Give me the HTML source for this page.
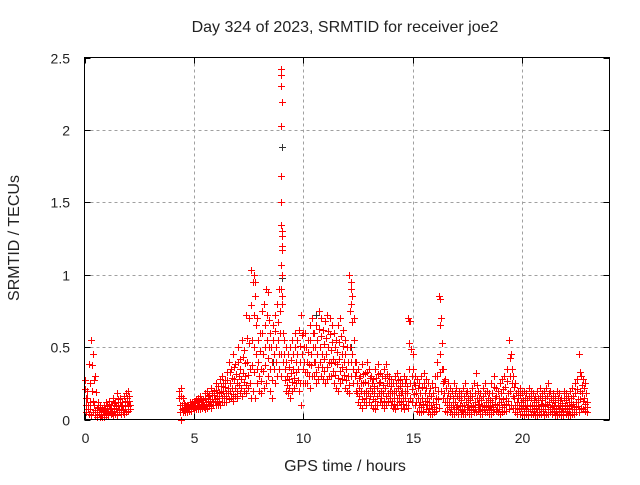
<!DOCTYPE html>
<html><head><meta charset="utf-8"><style>
html,body{margin:0;padding:0;background:#fff;}
svg text{font-family:"Liberation Sans",sans-serif;font-size:14px;fill:#222;}
svg text.big{font-size:16px;}
</style></head><body>
<svg id="chart" width="640" height="480">
<text class="big" x="345" y="32" text-anchor="middle">Day 324 of 2023, SRMTID for receiver joe2</text>
<text class="big" x="345" y="471" text-anchor="middle">GPS time / hours</text>
<text class="big" transform="translate(19,238) rotate(-90)" text-anchor="middle">SRMTID / TECUs</text>
<g id="grid"></g>
<g id="axes"></g>
<g id="marks" shape-rendering="crispEdges"></g>
<rect x="84.5" y="57.5" width="525" height="362" fill="none" stroke="#000" stroke-width="1"/>
</svg>
<script>
const xTicks=[0,5,10,15,20];
const yTicks=[0,0.5,1,1.5,2,2.5];
const yTickLabels=["0","0.5","1","1.5","2","2.5"];
const segStart=[0,4.3];
const hi1=[.27,.2,.38,.55,.45,.3,.12,.1,.08,.1,.12,.13,.1,.15,.12,.18,.15,.12,.16,.18,.2];
const mid1=[.15,.1,.12,.2,.1,.08,.05,.04,.05,.06,.07,.08,.06,.08,.07,.1,.09,.07,.1,.12,.13];
const lo1=[.05,.04,.03,.05,.03,.02,.02,.02,.02,.03,.03,.04,.03,.04,.03,.05,.04,.04,.05,.06,.07];
const hi2=[.2,.22,.15,.1,.1,.12,.12,.13,
.14,.15,.16,.14,.18,.2,.17,.22,.2,.25,.23,.28,.3,.27,.33,
.4,.35,.45,.38,.5,.42,.55,.48,.72,.7,
1.03,.95,.85,.7,.6,.75,.8,.9,.88,.6,.65,.72,.8,.9,
.9,
.55,.5,.45,.5,.55,.6,.55,.62,.72,.6,
.6,.55,.65,.7,.6,.65,.75,.7,.62,.68,.72,.7,.65,.6,.55,.65,.7,.62,.55,.5,
1.0,.9,.7,
.4,.35,.3,.38,.32,.4,.35,.3,.28,.35,.38,.32,.3,.35,.38,.3,.28,.25,.3,.32,.28,.25,.3,.28,
.7,.68,.45,
.3,.28,.25,.3,.32,.28,.25,.22,.25,.3,.4,
.85,.7,
.35,.28,.25,.22,.2,.25,.22,.2,.18,.22,.25,.2,.18,.22,.25,.32,.2,.18,.22,.25,.2,.18,.25,.3,.22,.2,.25,.28,.3,.35,
.55,.45,
.3,.25,.2,.22,.18,.2,.18,.22,.2,.18,.16,.2,.22,.18,.2,.22,.25,.2,.18,.16,.2,.18,.15,.2,.18,.16,.2,.22,.25,.28,
.45,.3,.28,.25];
const mid2=[.1,.1,.08,.07,.08,.09,.09,.1,
.1,.1,.11,.1,.12,.13,.12,.14,.14,.16,.15,.18,.2,.18,.22,
.25,.22,.28,.25,.3,.28,.32,.3,.4,.35,
.55,.5,.45,.4,.35,.45,.5,.55,.5,.4,.45,.5,.55,.6,
.8,
.35,.3,.28,.32,.35,.4,.35,.4,.45,.4,
.4,.38,.45,.5,.4,.45,.5,.45,.42,.45,.5,.48,.42,.4,.38,.42,.45,.4,.35,.3,
.5,.45,.4,
.25,.22,.2,.25,.2,.25,.22,.2,.18,.22,.25,.2,.18,.22,.25,.2,.18,.15,.2,.22,.18,.15,.2,.18,
.35,.3,.25,
.18,.15,.12,.15,.18,.15,.12,.1,.12,.15,.2,
.45,.35,
.18,.15,.12,.1,.1,.12,.1,.1,.09,.1,.12,.1,.09,.1,.12,.15,.1,.09,.1,.12,.1,.09,.12,.15,.1,.1,.12,.14,.15,.18,
.3,.25,
.15,.12,.1,.12,.09,.1,.09,.1,.1,.09,.08,.1,.11,.09,.1,.11,.12,.1,.09,.08,.1,.09,.08,.1,.09,.08,.1,.11,.12,.14,
.2,.18,.15,.12];
const lo2=[0,.05,.05,.05,.06,.06,.07,.07,
.07,.07,.08,.07,.08,.09,.08,.1,.1,.1,.1,.12,.12,.12,.14,
.15,.13,.16,.15,.18,.16,.2,.18,.22,.15,
.2,.15,.25,.2,.18,.22,.25,.3,.2,.15,.25,.3,.35,.3,
.4,
.2,.18,.15,.2,.22,.25,.2,.1,.25,.25,
.25,.22,.3,.3,.25,.28,.3,.28,.25,.28,.3,.3,.25,.22,.2,.25,.28,.22,.2,.18,
.3,.25,.2,
.12,.1,.08,.12,.1,.12,.1,.08,.07,.1,.12,.1,.08,.1,.12,.1,.08,.07,.1,.12,.08,.07,.1,.08,
.15,.12,.1,
.06,.05,.05,.06,.07,.05,.04,.04,.05,.06,.08,
.2,.15,
.06,.05,.05,.04,.04,.05,.04,.04,.04,.04,.05,.04,.04,.05,.05,.06,.04,.04,.05,.05,.04,.04,.05,.06,.05,.04,.05,.06,.06,.07,
.1,.08,
.05,.04,.04,.04,.03,.04,.03,.04,.04,.03,.03,.04,.04,.03,.04,.04,.05,.04,.03,.03,.04,.03,.03,.04,.03,.03,.04,.04,.05,.05,
.08,.07,.06,.05];
const spikeHours=[8.99,9.0,8.98,9.01,8.99,9.0,8.97,8.96,9.02,9.03,9.01,9.02,8.98,9.03,7.75,7.8,12.2,12.22,12.18,16.25,14.85];
const spikeVals=[2.42,2.38,2.3,2.19,2.03,1.68,1.5,1.34,1.3,1.27,1.2,1.17,1.07,1.0,1.0,.95,.95,.85,.8,.83,.68];
const blackHours=[9.02,9.0,9.05,8.6,10.6,12.2];
const blackVals=[1.88,1.5,.98,.4,.72,.5];

const X0=84.5,X1=609.5,Y0=419.5,Y1=57.5;
const xs=v=>X0+(v/24)*(X1-X0);
const ys=v=>Y0-(v/2.5)*(Y0-Y1);
const NS="http://www.w3.org/2000/svg";
const grid=document.getElementById('grid'),axes=document.getElementById('axes'),marks=document.getElementById('marks');
function mk(tag,attrs,parent){const e=document.createElementNS(NS,tag);for(const k in attrs)e.setAttribute(k,attrs[k]);parent.appendChild(e);return e;}
xTicks.forEach((t,i)=>{const x=Math.round(xs(t))+0.5;
 if(t>0){const g=mk('line',{x1:x,x2:x,y1:Y1,y2:Y0,stroke:'#a0a0a0','stroke-dasharray':'3,3'},grid);
 
 }
 const a=mk('line',{x1:x,x2:x,y1:Y0,y2:Y0-6,stroke:'#000'},axes);
 
 
 mk('line',{x1:x,x2:x,y1:Y1,y2:Y1+6,stroke:'#000'},axes);
 const l=mk('text',{x:x,y:443,'text-anchor':'middle'},axes);l.textContent=String(t);
 
 });
yTicks.forEach((t,i)=>{const y=Math.round(ys(t))+0.5;
 if(t>0&&t<2.5){const g=mk('line',{x1:X0,x2:X1,y1:y,y2:y,stroke:'#a0a0a0','stroke-dasharray':'3,3'},grid);
 
 }
 const a=mk('line',{x1:X0,x2:X0+6,y1:y,y2:y,stroke:'#000'},axes);
 
 
 mk('line',{x1:X1,x2:X1-6,y1:y,y2:y,stroke:'#000'},axes);
 const l=mk('text',{x:70,y:y+5,'text-anchor':'end'},axes);l.textContent=yTickLabels[i];
 
 });
let d='',dk='';
function plus(t,v){const x=Math.round(xs(t))+0.5,y=Math.round(ys(v))+0.5;return `M${x-3.5} ${y}h7M${x} ${y-3.5}v7`;}
function seg(start,hi,mid,lo){for(let i=0;i<hi.length;i++){const t=start+i*0.1;
 d+=plus(t,hi[i])+plus(t+0.03,(hi[i]+mid[i])/2)+plus(t+0.05,mid[i])+plus(t+0.07,(mid[i]+lo[i])/2)+plus(t+0.09,lo[i]);}}
seg(segStart[0],hi1,mid1,lo1);seg(segStart[1],hi2,mid2,lo2);
blackHours.forEach((t,i)=>{dk+=plus(t,blackVals[i]);});
spikeHours.forEach((t,i)=>{d+=plus(t,spikeVals[i]);});
const pk=mk('path',{d:dk,stroke:'#333',fill:'none','stroke-width':1},marks);


const p=mk('path',{d:d,stroke:'#ff0000',fill:'none','stroke-width':1},marks);


</script>
</body></html>
